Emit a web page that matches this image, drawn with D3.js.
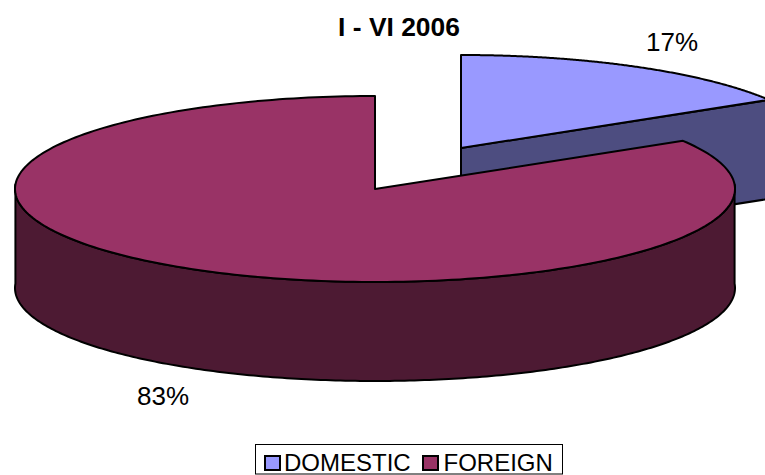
<!DOCTYPE html>
<html>
<head>
<meta charset="utf-8">
<script src="https://cdn.jsdelivr.net/npm/d3@7"></script>
<style>
html,body{margin:0;padding:0;background:#fff;overflow:hidden}
text{font-family:"Liberation Sans",Arial,sans-serif;fill:#000}
</style>
</head>
<body>
<svg id="chart" width="765" height="475"></svg>
<script>
const titleText = "I - VI 2006";
const categories = ["DOMESTIC", "FOREIGN"];
const values = [17, 83];
const valueLabels = ["17%", "83%"];
const topColors = ["#9999ff", "#993366"];
const sideColors = ["#4d4d80", "#4d1a33"];

const svg = d3.select("#chart");
const rx = 360, ry = 93, depth = 99;
const baseCenter = {x: 375, y: 189};
const offsets = [{x: 86, y: -41}, {x: 0, y: 0}];
const perspective = 0.953;

const slices = d3.pie().sort(null).startAngle(0).endAngle(2 * Math.PI)(values);

// Maps pie angle (clockwise from the top) through the chart's slight 3D perspective.
const warp = a => {
  const h = a / 2;
  const t = Math.abs(Math.cos(h)) < 1e-9 ? null : Math.tan(h);
  if (t === null) return a;
  let r = 2 * Math.atan(perspective * t);
  while (r < a - Math.PI) r += 2 * Math.PI;
  return r;
};
const pt = (c, a, dz = 0) => {
  const w = warp(a);
  return [c.x + rx * Math.sin(w), c.y - ry * Math.cos(w) + dz];
};
const sampleAngles = (a0, a1) => d3.range(0, 241).map(i => a0 + (a1 - a0) * i / 240);
const line = d3.line();
const stroke = {stroke: "#000", width: 2};

function face(d, fill) {
  svg.append("path").attr("d", d).attr("fill", fill)
    .attr("stroke", stroke.stroke).attr("stroke-width", stroke.width)
    .attr("stroke-linejoin", "round");
}

slices.forEach((s, i) => {
  const c = {x: baseCenter.x + offsets[i].x, y: baseCenter.y + offsets[i].y};
  const a0 = s.startAngle, a1 = s.endAngle;
  const apex = [c.x, c.y], apexLow = [c.x, c.y + depth];

  // cut face visible below the trailing edge of the first slice
  if (i === 0) {
    face(line([apex, pt(c, a1), pt(c, a1, depth), apexLow]) + "Z", sideColors[i]);
    face(line([apex, apexLow]), "none");
  }
  // outer rim: only the part facing the viewer (right of the top point round to the left)
  const r0 = Math.max(a0, Math.PI / 2), r1 = Math.min(a1, 3 * Math.PI / 2);
  if (r1 > r0) {
    const upper = sampleAngles(r0, r1).map(a => pt(c, a));
    const lower = sampleAngles(r1, r0).map(a => pt(c, a, depth));
    face(line(upper.concat(lower)) + "Z", sideColors[i]);
  }
  // top surface
  const rim = sampleAngles(a0, a1).map(a => pt(c, a));
  face(line([apex, ...rim]) + "Z", topColors[i]);
});

svg.append("text").attr("x", 399).attr("y", 36).attr("text-anchor", "middle")
  .attr("font-size", 26.4).attr("font-weight", "bold").text(titleText);

const labelPos = [[672, 51], [163, 405]];
svg.selectAll("text.value").data(valueLabels).enter().append("text")
  .attr("class", "value").attr("x", (d, i) => labelPos[i][0]).attr("y", (d, i) => labelPos[i][1])
  .attr("text-anchor", "middle").attr("font-size", 26).text(d => d);

// legend
svg.append("rect").attr("x", 255.5).attr("y", 444.5).attr("width", 307).attr("height", 29.5)
  .attr("fill", "#fff").attr("stroke", "#000").attr("stroke-width", 1);
const swatchX = [265, 423], textX = [284, 443.5];
categories.forEach((c, i) => {
  svg.append("rect").attr("x", swatchX[i]).attr("y", 456).attr("width", 15).attr("height", 14)
    .attr("fill", topColors[i]).attr("stroke", "#000").attr("stroke-width", 2);
  svg.append("text").attr("x", textX[i]).attr("y", 470.5).attr("font-size", 24).text(c);
});
</script>
</body>
</html>
